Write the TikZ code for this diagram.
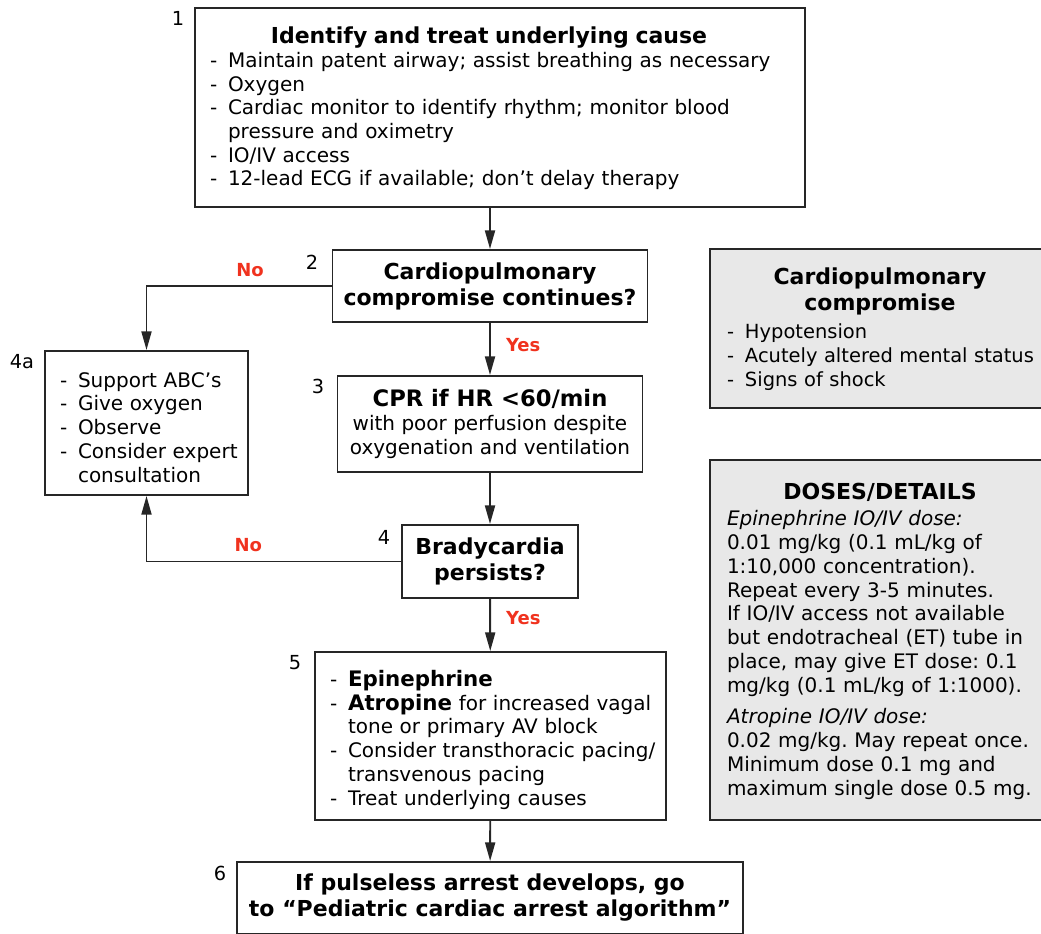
\documentclass[tikz,border=0pt]{standalone}
\usepackage{fontspec}
\setmainfont{DejaVu Sans}
\usetikzlibrary{positioning,calc,arrows.meta}
\frenchspacing

\newlength\pxu
\setlength\pxu{0.75pt}
\definecolor{yncol}{RGB}{240,50,30}
\definecolor{boxgray}{RGB}{232,232,232}
\newcommand\itm[1]{\par\noindent\hangindent=18\pxu\hangafter=1\makebox[18\pxu][l]{-}#1}
\newcommand\hd[2]{{\noindent\fontsize{16.5}{19.5}\selectfont\bfseries
  \makebox[#1][c]{\begin{tabular}{@{}c@{}}#2\end{tabular}}\par}}
\newcommand\bigb[1]{{\fontsize{16}{17.6}\selectfont\bfseries #1}}

\begin{document}
\begin{tikzpicture}[
  x=0.75pt, y=-0.75pt,
  box/.style={draw=black!85, line width=1.45pt, fill=white, inner ysep=0pt, inner xsep=3\pxu,
              align=left, font=\fontsize{15}{17.8}\selectfont},
  ask/.style={box, align=center, font=\fontsize{16.5}{19.5}\selectfont\bfseries},
  greybox/.style={box, fill=boxgray, text width=330\pxu},
  num/.style={font=\fontsize{14.5}{15}\selectfont, inner sep=1pt},
  yn/.style={font=\fontsize{13.5}{15}\selectfont\bfseries, text=yncol},
  arr/.style={-{Triangle[length=14pt,width=7.5pt]}, line width=1.45pt, draw=black!85}
]
\useasboundingbox (0,0) rectangle (1041,934);

% main column
\node[box, text width=604\pxu, minimum height=199\pxu] (cause) at (500,107.5)
  {\leftskip=12\pxu
   \hd{558\pxu}{Identify and treat underlying cause}%
   \itm{Maintain patent airway; assist breathing as necessary}%
   \itm{Oxygen}%
   \itm{Cardiac monitor to identify rhythm; monitor blood\newline pressure and oximetry}%
   \itm{IO/IV access}%
   \itm{12-lead ECG if available; don’t delay therapy}\par};
\node[ask, minimum width=315\pxu, minimum height=72\pxu] (cpc) at (490,286)
  {Cardiopulmonary\\compromise continues?};
\node[box, align=center, minimum width=305\pxu, minimum height=96\pxu] (cpr) at (490,424)
  {{\fontsize{17}{19.5}\selectfont\bfseries CPR if HR <60/min}\\with poor perfusion despite\\oxygenation and ventilation};
\node[ask, minimum width=176\pxu, minimum height=73\pxu] (brady) at (490,561.5)
  {Bradycardia\\persists?};
\node[box, text width=345\pxu, minimum height=168\pxu] (meds) at (490.5,736)
  {\leftskip=12\pxu
   \itm{\bigb{Epinephrine}}%
   \itm{\bigb{Atropine} for increased vagal\newline tone or primary AV block}%
   \itm{Consider transthoracic pacing/\newline transvenous pacing}%
   \itm{Treat underlying causes}\par};
\node[ask, minimum width=506\pxu, minimum height=72\pxu] (arrest) at (490,898)
  {If pulseless arrest develops, go\\to “Pediatric cardiac arrest algorithm”};

% left branch
\node[box, text width=197\pxu, minimum height=144\pxu] (support) at (146.5,423)
  {\leftskip=12\pxu
   \itm{Support ABC’s}%
   \itm{Give oxygen}%
   \itm{Observe}%
   \itm{Consider expert\newline consultation}\par};

% side panels
\node[greybox, minimum height=159\pxu, font=\fontsize{14.6}{17.8}\selectfont] (signs) at (878,328.5)
  {\leftskip=14\pxu
   \hd{306\pxu}{Cardiopulmonary\\compromise}\vspace{3pt}%
   \itm{Hypotension}%
   \itm{Acutely altered mental status}%
   \itm{Signs of shock}\par};
\node[greybox, minimum height=360\pxu] (doses) at (878,640)
  {\leftskip=14\pxu
   \hd{306\pxu}{DOSES/DETAILS}\vspace{2pt}%
   \par\noindent\textit{Epinephrine IO/IV dose:}\newline
   0.01 mg/kg (0.1 mL/kg of\newline 1:10,000 concentration).\newline Repeat every 3-5 minutes.\newline
   If IO/IV access not available\newline but endotracheal (ET) tube in\newline place, may give ET dose: 0.1\newline
   mg/kg (0.1 mL/kg of 1:1000).\par\vspace{6pt}%
   \noindent\textit{Atropine IO/IV dose:}\newline
   0.02 mg/kg. May repeat once.\newline Minimum dose 0.1 mg and\newline maximum single dose 0.5 mg.\par};

% step numbers
\node[num] (n1) at (178,18) {1};
\node[num] (n2) at (312,262) {2};
\node[num] (n3) at (318,386) {3};
\node[num] (n4a) at (22,362) {4a};
\node[num] (n4) at (384,537) {4};
\node[num] (n5) at (295,663) {5};
\node[num] (n6) at (220,873) {6};

% connectors
\draw[arr] (cpc.north |- cause.south) -- (cpc.north);
\draw[arr] (cpc) -- node[yn, right, pos=0.43, xshift=8pt] {Yes} (cpr);
\draw[arr] (cpc.west) -| node[yn, above, pos=0.22, yshift=3pt] {No} (support.north);
\draw[arr] (cpr) -- (brady);
\draw[arr] (brady.west) -| node[yn, above, pos=0.3, yshift=3pt] {No} (support.south);
\draw[arr] (brady) -- node[yn, right, pos=0.37, xshift=8pt] {Yes} (meds);
\draw[arr] (meds) -- (arrest);

\end{tikzpicture}
\end{document}
